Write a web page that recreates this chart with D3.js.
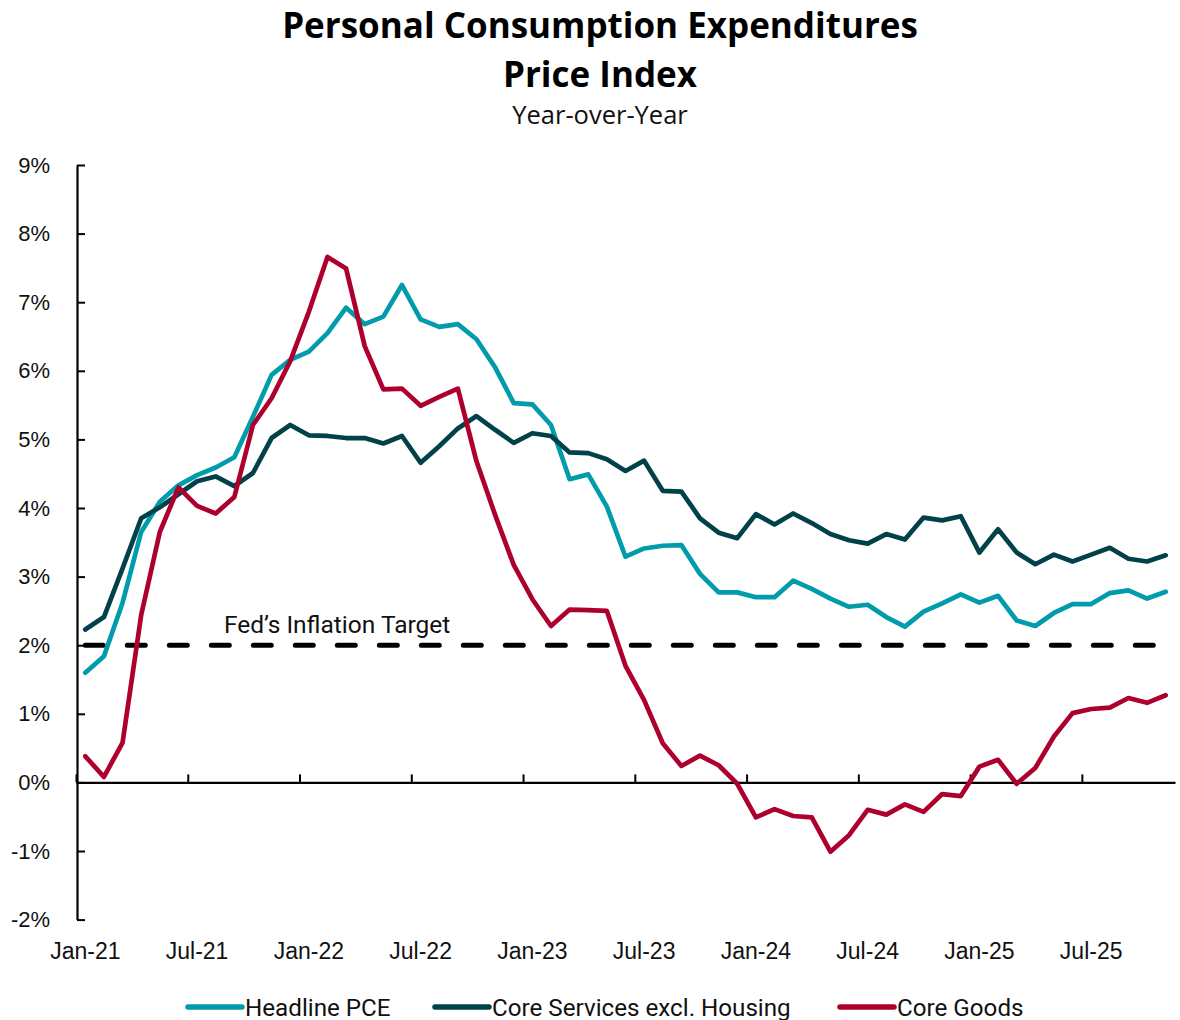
<!DOCTYPE html>
<html>
<head>
<meta charset="utf-8">
<script src="https://cdn.jsdelivr.net/npm/d3@7"></script>
<style>
  body { margin: 0; background: #fff; }
  svg { font-family: Roboto, "Open Sans", sans-serif; }
</style>
</head>
<body>
<svg id="chart" width="1180" height="1020"></svg>
<script>
// months Jan-21 .. Nov-25
const monthNames = ["Jan","Feb","Mar","Apr","May","Jun","Jul","Aug","Sep","Oct","Nov","Dec"];
const months = [];
for (let i = 0; i < 59; i++) {
  months.push(monthNames[i % 12] + "-" + (21 + Math.floor(i / 12)));
}
const xTickLabels = ["Jan-21","Jul-21","Jan-22","Jul-22","Jan-23","Jul-23","Jan-24","Jul-24","Jan-25","Jul-25"];
const yTicks = [-2,-1,0,1,2,3,4,5,6,7,8,9];

const headlinePCE = [1.60,1.84,2.62,3.65,4.09,4.33,4.48,4.59,4.74,5.33,5.94,6.16,
  6.28,6.55,6.92,6.68,6.79,7.25,6.75,6.64,6.68,6.46,6.05,5.53,
  5.51,5.21,4.42,4.49,4.02,3.29,3.41,3.45,3.46,3.04,2.77,2.77,
  2.70,2.70,2.94,2.82,2.68,2.56,2.59,2.41,2.27,2.49,2.61,2.74,
  2.62,2.72,2.36,2.28,2.47,2.60,2.60,2.76,2.80,2.68,2.78];

const coreServicesExHousing = [2.23,2.41,3.12,3.85,4.01,4.20,4.39,4.46,4.32,4.51,5.02,5.21,
  5.06,5.05,5.02,5.02,4.94,5.05,4.66,4.90,5.16,5.34,5.14,4.95,
  5.09,5.05,4.81,4.80,4.71,4.54,4.69,4.25,4.24,3.85,3.64,3.56,
  3.91,3.76,3.92,3.78,3.62,3.53,3.48,3.62,3.54,3.86,3.82,3.88,
  3.35,3.69,3.35,3.18,3.32,3.22,3.32,3.42,3.26,3.22,3.31];

const coreGoods = [0.38,0.08,0.58,2.44,3.65,4.30,4.03,3.92,4.16,5.21,5.60,6.14,
  6.86,7.66,7.49,6.36,5.73,5.74,5.49,5.62,5.74,4.68,3.90,3.17,
  2.67,2.28,2.52,2.51,2.50,1.70,1.20,0.57,0.24,0.39,0.25,-0.02,
  -0.51,-0.39,-0.49,-0.51,-1.01,-0.77,-0.40,-0.47,-0.32,-0.43,-0.17,-0.20,
  0.23,0.33,-0.02,0.21,0.67,1.01,1.07,1.09,1.23,1.16,1.27];

const fedTarget = 2;

const series = [
  { name: "Headline PCE", values: headlinePCE, color: "#009cab" },
  { name: "Core Services excl. Housing", values: coreServicesExHousing, color: "#00414a" },
  { name: "Core Goods", values: coreGoods, color: "#ad002d" }
];

const svg = d3.select("#chart");
const plotLeft = 76, plotRight = 1175, plotTop = 165, plotBottom = 919.6;

const x = d3.scaleBand().domain(months).range([plotLeft, plotRight]).padding(0);
const xIdx = d3.scaleLinear().domain([0, months.length]).range([plotLeft, plotRight]);
const y = d3.scaleLinear().domain([-2, 9]).range([plotBottom, plotTop]);
const xc = d => x(d) + x.bandwidth() / 2;

// titles
svg.append("text").attr("x", 600).attr("y", 38).attr("text-anchor", "middle")
  .style("font-family", "'Open Sans', sans-serif")
  .style("font-weight", 700).style("font-size", "35px").attr("fill", "#000")
  .text("Personal Consumption Expenditures");
svg.append("text").attr("x", 600).attr("y", 87).attr("text-anchor", "middle")
  .style("font-family", "'Open Sans', sans-serif")
  .style("font-weight", 700).style("font-size", "35px").attr("fill", "#000")
  .text("Price Index");
svg.append("text").attr("x", 600).attr("y", 124).attr("text-anchor", "middle")
  .style("font-family", "'Open Sans', sans-serif")
  .style("font-size", "25.5px").attr("fill", "#111")
  .text("Year-over-Year");

// y axis
const yAxis = svg.append("g").attr("transform", "translate(" + (plotLeft + 1) + ",0)")
  .call(d3.axisLeft(y).tickValues(yTicks).tickSizeInner(-8).tickSizeOuter(0).tickPadding(27)
    .tickFormat(d => d + "%"));
yAxis.select(".domain").attr("stroke", "#000").attr("stroke-width", 2.2);
yAxis.selectAll(".tick line").attr("stroke", "#000").attr("stroke-width", 2);
yAxis.selectAll(".tick text").style("font-size", "22px").attr("fill", "#111");

// x axis line at 0 with ticks between categories
const xTicks = svg.append("g").attr("transform", "translate(0," + y(0) + ")")
  .call(d3.axisBottom(xIdx).tickValues(d3.range(0, months.length, 6))
    .tickSizeInner(-8).tickSizeOuter(0).tickFormat(""));
xTicks.select(".domain").attr("stroke", "#000").attr("stroke-width", 2.2);
xTicks.selectAll(".tick line").attr("stroke", "#000").attr("stroke-width", 2);

// x labels at bottom
const xLab = svg.append("g").attr("transform", "translate(0," + plotBottom + ")")
  .call(d3.axisBottom(x).tickValues(xTickLabels).tickSize(0).tickPadding(23));
xLab.select(".domain").remove();
xLab.selectAll(".tick text").style("font-size", "23px").attr("fill", "#111");

// fed target dashed line
svg.append("line")
  .attr("x1", xc(months[0])).attr("x2", xc(months[months.length - 1]))
  .attr("y1", y(fedTarget)).attr("y2", y(fedTarget))
  .attr("stroke", "#000").attr("stroke-width", 5)
  .attr("stroke-linecap", "round").attr("stroke-dasharray", "18 24");
svg.append("text").attr("x", 224).attr("y", y(fedTarget) - 12)
  .style("font-size", "24.5px").attr("fill", "#111")
  .text("Fed\u2019s Inflation Target");

// series lines
const line = d3.line().x((d, i) => xc(months[i])).y(d => y(d));
series.forEach(function(s){
  svg.append("path").datum(s.values)
    .attr("d", line)
    .attr("fill", "none")
    .attr("stroke", s.color)
    .attr("stroke-width", 4.7)
    .attr("stroke-linejoin", "round")
    .attr("stroke-linecap", "round");
});

// legend
const legendX = [188, 435, 840];
const legend = svg.append("g").attr("transform", "translate(0,1007)");
series.forEach(function(s, i){
  legend.append("line")
    .attr("x1", legendX[i]).attr("x2", legendX[i] + 54)
    .attr("y1", 0).attr("y2", 0)
    .attr("stroke", s.color).attr("stroke-width", 5.5).attr("stroke-linecap", "round");
  legend.append("text").attr("x", legendX[i] + 57).attr("y", 8.5)
    .style("font-size", "24.2px").attr("fill", "#111").text(s.name);
});
</script>
</body>
</html>
